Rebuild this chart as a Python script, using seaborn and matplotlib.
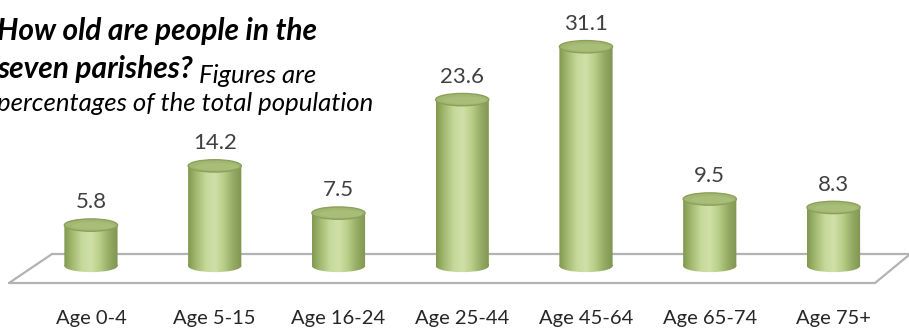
import numpy as np
import pandas as pd
import matplotlib
matplotlib.use("Agg")
import matplotlib.pyplot as plt
from matplotlib.patches import Ellipse, Polygon, PathPatch
from matplotlib.path import Path
from matplotlib.colors import LinearSegmentedColormap
import seaborn as sns

# Age bands and share of the total population (%)
age_groups = ["Age 0-4", "Age 5-15", "Age 16-24", "Age 25-44", "Age 45-64", "Age 65-74", "Age 75+"]
percentages = [5.8, 14.2, 7.5, 23.6, 31.1, 9.5, 8.3]

df = pd.DataFrame({"age": age_groups, "pct": percentages})

sns.set_theme(style="white")
plt.rcParams["font.family"] = ["Lato", "DejaVu Sans"]

W, H = 909, 329
fig = plt.figure(figsize=(W / 100, H / 100), dpi=100)
ax = fig.add_axes([0, 0, 1, 1])

BAR_W = 0.43
sns.barplot(data=df, x="age", y="pct", ax=ax, width=BAR_W, color="#b5cb85",
            saturation=1, zorder=3, linewidth=0)

x_lo, x_hi = -0.735, 6.61
y_lo, y_hi = -8.94, 37.73
ax.set_xlim(x_lo, x_hi)
ax.set_ylim(y_lo, y_hi)
ax.axis("off")


def px(x, y):
    """pixel position (from top-left) -> data coordinates"""
    return (x_lo + x / W * (x_hi - x_lo), y_hi - y / H * (y_hi - y_lo))


# floor of the 3-D plot
FLOOR = "#b3b3b3"
for a, b in [((52, 254), (909, 254)), ((9, 283), (875, 283)),
             ((9, 283), (52, 254)), ((875, 283), (909, 255))]:
    ax.plot(*zip(px(*a), px(*b)), color=FLOOR, lw=1.6, zorder=1,
            solid_capstyle="round")

body_cmap = LinearSegmentedColormap.from_list(
    "cyl", ["#819850", "#a5bc72", "#c5d99b", "#cfe1a8", "#b8ce88", "#95ac64", "#7f9550"])
grad = np.linspace(0, 1, 256)[None, :]

ELL_H = 1.75  # ellipse height in value units

for patch, val in zip(ax.patches, percentages):
    x0 = patch.get_x()
    w = patch.get_width()
    cx = x0 + w / 2
    h = patch.get_height()
    patch.set_facecolor("none")

    # body + rounded base as one clip region
    rect = Path([(x0, 0), (x0 + w, 0), (x0 + w, h), (x0, h), (x0, 0)],
                [Path.MOVETO, Path.LINETO, Path.LINETO, Path.LINETO, Path.CLOSEPOLY])
    base = Ellipse((cx, 0), w, ELL_H)
    base_path = base.get_patch_transform().transform_path(base.get_path())
    clip = Path.make_compound_path(rect, base_path)
    im = ax.imshow(grad, cmap=body_cmap, aspect="auto",
                   extent=[x0, x0 + w, -ELL_H, h], zorder=3, interpolation="bicubic")
    cp = PathPatch(clip, transform=ax.transData, facecolor="none", edgecolor="none")
    ax.add_patch(cp)
    im.set_clip_path(cp)

    # top cap
    ax.add_patch(Ellipse((cx, h), w, ELL_H, facecolor="#a1b771",
                         edgecolor="#8ca05c", lw=1.0, zorder=4))
    ax.add_patch(Ellipse((cx + w * 0.04, h - ELL_H * 0.06), w * 0.8, ELL_H * 0.6,
                         facecolor="#aac07b", edgecolor="none", zorder=4, alpha=0.8))

    # value label above the cap
    ax.annotate(f"{val:.1f}", (cx, h), xytext=(0, 12), textcoords="offset points",
                ha="center", va="baseline", fontsize=16, color="#404040", zorder=5)

# category labels under the floor
_, ylab = px(0, 324)
for i, name in enumerate(age_groups):
    ax.text(i, ylab, name, ha="center", va="baseline", fontsize=14.5, color="#262626")

# title block
tx, _ = px(-3, 0)
_, t1 = px(0, 40)
_, t2 = px(0, 78)
_, t3 = px(0, 111)
ax.text(tx, t1, "How old are people in the", fontsize=21.5, fontweight="bold",
        fontstyle="italic", color="black", va="baseline", ha="left")
t = ax.text(tx, t2, "seven parishes?", fontsize=21.5, fontweight="bold",
            fontstyle="italic", color="black", va="baseline", ha="left")
ax.annotate(" Figures are", xycoords=t, xy=(1, 0), xytext=(0, 0),
            textcoords="offset points", va="baseline", ha="left",
            fontsize=18.5, fontstyle="italic", color="black")
ax.text(tx, t3, "percentages of the total population", fontsize=18.5,
        fontstyle="italic", color="black", va="baseline", ha="left")

fig.savefig("out.png", dpi=100)
